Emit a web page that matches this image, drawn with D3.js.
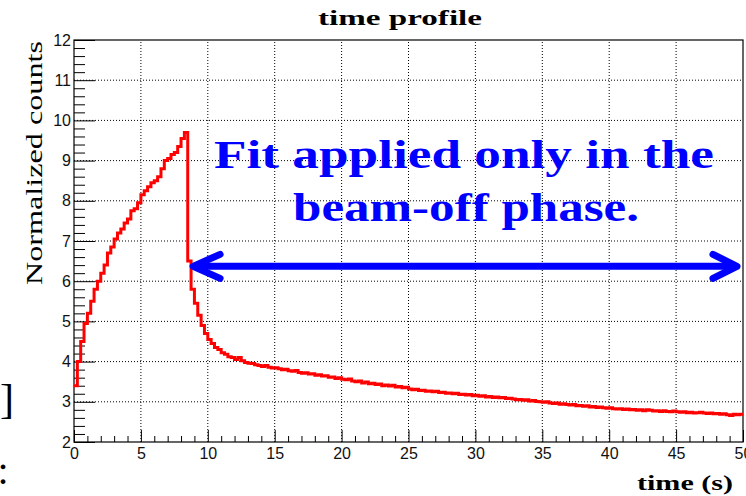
<!DOCTYPE html>
<html lang="en">
<head>
	<meta charset="UTF-8">
	<title>time profile</title>
<script src="https://cdn.jsdelivr.net/npm/d3@7"></script>
<style>
  body { margin: 0; background: #fff; }
</style>
</head>
<body>
<script type="text/javascript">

// histogram bins, 0.25 s wide, from 0 to 50 s
var binWidth = 0.25;
var counts = [
  3.40,4.00,4.50,4.95,5.20,5.50,5.80,6.00,6.20,6.40,
  6.70,6.85,7.05,7.20,7.30,7.45,7.55,7.75,7.80,7.95,
  8.15,8.25,8.35,8.45,8.50,8.60,8.80,9.00,9.05,9.15,
  9.20,9.35,9.55,9.70,6.50,5.80,5.45,5.15,4.90,4.70,
  4.55,4.45,4.35,4.30,4.22,4.18,4.12,4.10,4.05,4.10,
  4.02,3.98,3.96,3.95,3.92,3.90,3.88,3.90,3.86,3.84,
  3.85,3.82,3.80,3.81,3.77,3.76,3.78,3.73,3.71,3.72,
  3.69,3.70,3.66,3.67,3.64,3.65,3.61,3.62,3.58,3.60,
  3.56,3.55,3.57,3.52,3.50,3.52,3.47,3.49,3.45,3.46,
  3.43,3.44,3.40,3.42,3.39,3.41,3.37,3.38,3.35,3.36,
  3.32,3.30,3.31,3.28,3.29,3.26,3.27,3.25,3.26,3.23,
  3.24,3.21,3.22,3.20,3.21,3.18,3.19,3.17,3.18,3.15,
  3.16,3.14,3.15,3.12,3.13,3.11,3.12,3.10,3.11,3.08,
  3.09,3.07,3.05,3.06,3.04,3.05,3.02,3.03,3.01,3.00,
  2.99,3.00,2.97,2.96,2.97,2.94,2.95,2.93,2.92,2.93,
  2.90,2.91,2.89,2.90,2.87,2.88,2.86,2.87,2.85,2.84,
  2.85,2.83,2.82,2.83,2.81,2.82,2.80,2.81,2.79,2.80,
  2.78,2.80,2.79,2.77,2.78,2.76,2.78,2.76,2.75,2.77,
  2.75,2.74,2.75,2.73,2.74,2.72,2.73,2.74,2.72,2.71,
  2.72,2.70,2.71,2.69,2.70,2.68,2.66,2.69,2.68,2.69
];

var xTicks = [0, 5, 10, 15, 20, 25, 30, 35, 40, 45, 50];
var yTicks = [2, 3, 4, 5, 6, 7, 8, 9, 10, 11, 12];
var fitRange = [8.9, 49.55];   // the beam-off arrow, in seconds
var fitArrowLevel = 6.37;
var noteLines = ["Fit applied only in the", "beam-off phase."];

var W = 746, H = 496;
var x = d3.scaleLinear().domain([0, 50]).range([74, 743]);
var y = d3.scaleLinear().domain([2, 12]).range([442, 40]);

var svg = d3.select('body').append('svg')
  .attr('width', W)
  .attr('height', H);

var sans = 'Liberation Sans, Arial, sans-serif';
var serif = 'Liberation Serif, DejaVu Serif, serif';

// grid
svg.append('g').selectAll('line')
  .data(xTicks.slice(1, -1))
  .enter().append('line')
  .attr('x1', function (d) { return x(d); }).attr('x2', function (d) { return x(d); })
  .attr('y1', y(2)).attr('y2', y(12))
  .attr('stroke', '#000').attr('stroke-width', 1).attr('stroke-dasharray', '1,2');
svg.append('g').selectAll('line')
  .data(yTicks.slice(1, -1))
  .enter().append('line')
  .attr('y1', function (d) { return y(d); }).attr('y2', function (d) { return y(d); })
  .attr('x1', x(0)).attr('x2', x(50))
  .attr('stroke', '#000').attr('stroke-width', 1).attr('stroke-dasharray', '1,2');

// minor ticks
var xMinor = d3.range(0, 51, 1).filter(function (d) { return d % 5 !== 0; });
var yMinor = d3.range(0, 51).map(function (i) { return 2 + i * 0.2; })
  .filter(function (d, i) { return i % 5 !== 0; });

svg.append('g')
  .attr('transform', 'translate(0,' + y(2) + ')')
  .call(d3.axisBottom(x).tickValues(xMinor).tickSizeInner(-6).tickSizeOuter(0).tickFormat(''))
  .call(function (g) { g.select('.domain').remove(); });
svg.append('g')
  .attr('transform', 'translate(' + x(0) + ',0)')
  .call(d3.axisLeft(y).tickValues(yMinor).tickSizeInner(-11).tickSizeOuter(0).tickFormat(''))
  .call(function (g) { g.select('.domain').remove(); });

// major ticks with labels
var axX = svg.append('g')
  .attr('transform', 'translate(0,' + y(2) + ')')
  .call(d3.axisBottom(x).tickValues(xTicks).tickSizeInner(-12).tickSizeOuter(0).tickPadding(6));
var axY = svg.append('g')
  .attr('transform', 'translate(' + x(0) + ',0)')
  .call(d3.axisLeft(y).tickValues(yTicks).tickSizeInner(-21).tickSizeOuter(0).tickPadding(3));

[axX, axY].forEach(function (g) {
  g.select('.domain').remove();
  g.selectAll('text').attr('font-family', sans).attr('font-size', 16).attr('fill', '#111');
});

// frame
svg.append('rect')
  .attr('x', x(0)).attr('y', y(12))
  .attr('width', x(50) - x(0)).attr('height', y(2) - y(12))
  .attr('fill', 'none').attr('stroke', '#000').attr('stroke-width', 1.2);

// histogram
var pts = counts.map(function (v, i) { return [i * binWidth, v]; });
pts.push([counts.length * binWidth, counts[counts.length - 1]]);

var line = d3.line()
  .x(function (d) { return x(d[0]); })
  .y(function (d) { return y(d[1]); })
  .curve(d3.curveStepAfter);

svg.append('path')
  .datum(pts)
  .attr('d', line)
  .attr('fill', 'none')
  .attr('stroke', '#ff0000')
  .attr('stroke-width', 3);

// double arrow for the fit range
var blue = '#0000ff';
var ay = y(fitArrowLevel);
var a0 = x(fitRange[0]), a1 = x(fitRange[1]);
var arrow = svg.append('g')
  .attr('stroke', blue).attr('stroke-width', 7).attr('fill', 'none')
  .attr('stroke-linecap', 'round').attr('stroke-linejoin', 'round');
arrow.append('line').attr('x1', a0 + 3).attr('x2', a1 - 3).attr('y1', ay).attr('y2', ay);
arrow.append('path').attr('d', 'M' + (a0 + 27) + ',' + (ay - 12) + 'L' + a0 + ',' + ay + 'L' + (a0 + 27) + ',' + (ay + 12));
arrow.append('path').attr('d', 'M' + (a1 - 24) + ',' + (ay - 12) + 'L' + a1 + ',' + ay + 'L' + (a1 - 24) + ',' + (ay + 12));

// note text
svg.append('text')
  .attr('x', 464).attr('y', 168)
  .attr('text-anchor', 'middle')
  .attr('font-family', serif).attr('font-weight', 'bold').attr('font-size', 41)
  .attr('fill', blue)
  .attr('textLength', 500).attr('lengthAdjust', 'spacingAndGlyphs')
  .text(noteLines[0]);
svg.append('text')
  .attr('x', 466).attr('y', 221)
  .attr('text-anchor', 'middle')
  .attr('font-family', serif).attr('font-weight', 'bold').attr('font-size', 41)
  .attr('fill', blue)
  .attr('textLength', 346).attr('lengthAdjust', 'spacingAndGlyphs')
  .text(noteLines[1]);

// titles
svg.append('text')
  .attr('x', 400).attr('y', 25)
  .attr('text-anchor', 'middle')
  .attr('font-family', serif).attr('font-weight', 'bold').attr('font-size', 22)
  .attr('textLength', 164).attr('lengthAdjust', 'spacingAndGlyphs')
  .text('time profile');

svg.append('text')
  .attr('x', 733).attr('y', 490)
  .attr('text-anchor', 'end')
  .attr('font-family', serif).attr('font-weight', 'bold').attr('font-size', 21)
  .attr('textLength', 96).attr('lengthAdjust', 'spacingAndGlyphs')
  .text('time (s)');

svg.append('text')
  .attr('transform', 'translate(42,163) rotate(-90)')
  .attr('text-anchor', 'middle')
  .attr('font-family', serif).attr('font-size', 24)
  .attr('textLength', 244).attr('lengthAdjust', 'spacingAndGlyphs')
  .text('Normalized counts');

// leftovers of the slide at the left border
svg.append('text')
  .attr('x', 14).attr('y', 413)
  .attr('text-anchor', 'end')
  .attr('font-family', serif).attr('font-size', 42)
  .text(']');
svg.append('text')
  .attr('x', 3).attr('y', 484)
  .attr('text-anchor', 'middle')
  .attr('font-family', serif).attr('font-size', 40)
  .text(':');

</script>
</body>
</html>
